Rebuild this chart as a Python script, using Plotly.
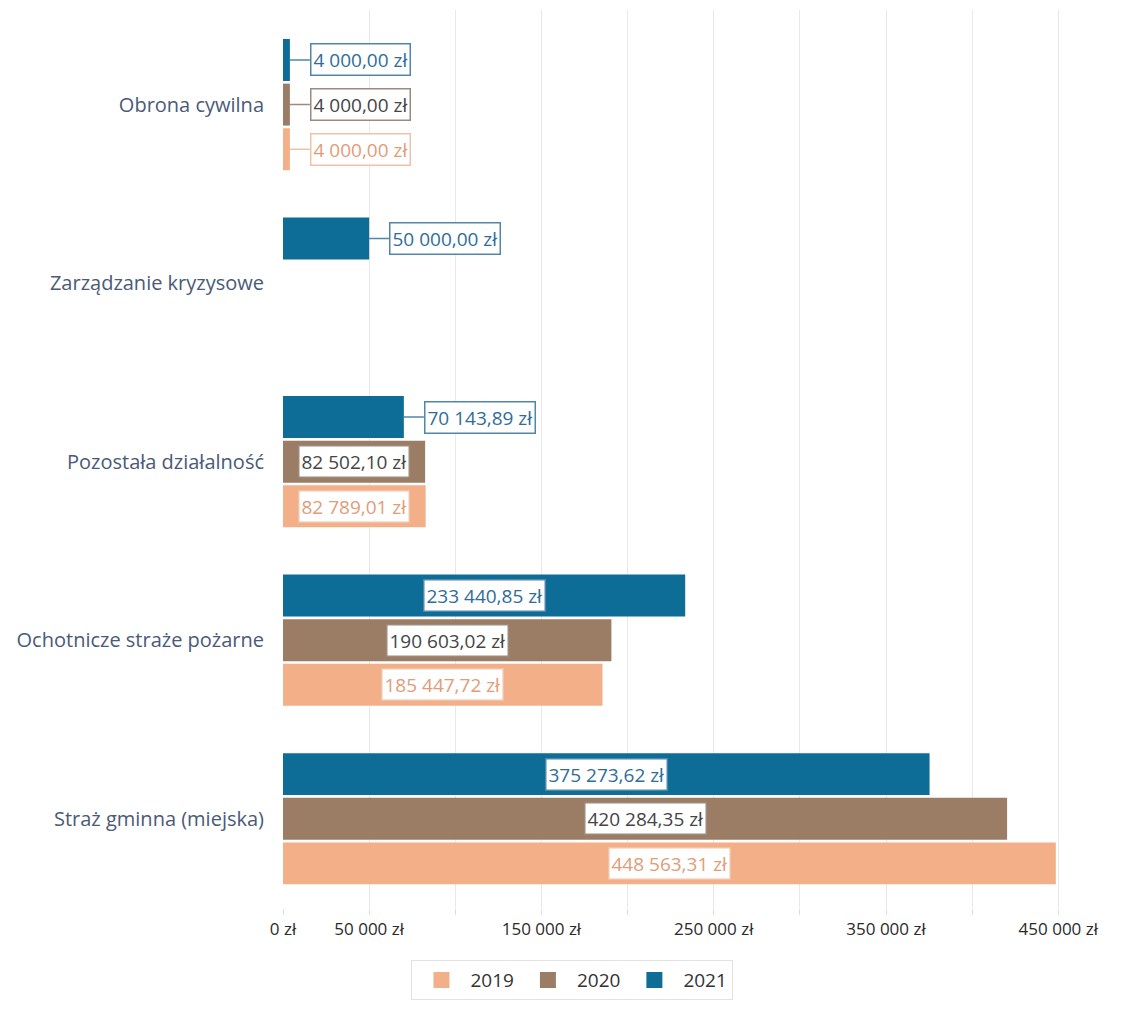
import plotly.graph_objs as go

########### Data ######

categories = ['Obrona cywilna', 'Zarządzanie kryzysowe', 'Pozostała działalność',
              'Ochotnicze straże pożarne', 'Straż gminna (miejska)']
years = ['2019', '2020', '2021']
values_2019 = [4000.00, None, 82789.01, 185447.72, 448563.31]
values_2020 = [4000.00, None, 82502.10, 190603.02, 420284.35]
values_2021 = [4000.00, 50000.00, 70143.89, 233440.85, 375273.62]
tick_values = [0, 50000, 100000, 150000, 200000, 250000, 300000, 350000, 400000, 450000]
tick_labels = ['0 zł', '50 000 zł', '', '150 000 zł', '', '250 000 zł', '', '350 000 zł', '', '450 000 zł']

########### Styling ######

bar_colors = {'2019': '#F3AF88', '2020': '#9B7D66', '2021': '#0E6D97'}
label_text = {'2019': '#E29C78', '2020': '#454545', '2021': '#2F6D99'}
label_border = {'2019': '#F0C3A8', '2020': '#9C8A7A', '2021': '#4F86AA'}
shifts = {'2019': -0.25, '2020': 0.0, '2021': 0.25}
FONT = 'Open Sans, sans-serif'
X_MAX = 480000
# page body has an 8px margin, so the figure is a bit smaller than the window
W, H = 1117, 1017
ML, MR, MT, MB = 275, 15, 2, 117
PLOT_W = W - ML - MR

def fmt(v):
    s = '{:,.2f}'.format(v).replace(',', ' ').replace('.', ',')
    return s + ' zł'

# categories from bottom to top on a numeric axis
ypos = [len(categories) - 1 - i for i in range(len(categories))]

fig = go.Figure()
annotations = []
series = {'2019': values_2019, '2020': values_2020, '2021': values_2021}
for yr in years:
    vals = series[yr]
    fig.add_trace(go.Bar(
        x=vals, y=[p + shifts[yr] for p in ypos], orientation='h', name=yr,
        width=0.235, marker=dict(color=bar_colors[yr], line=dict(width=0)),
        showlegend=False, hoverinfo='skip'))
    # legend entry with a bigger swatch
    fig.add_trace(go.Scatter(
        x=[None], y=[None], mode='markers', name=yr,
        marker=dict(symbol='square', size=16, color=bar_colors[yr])))
    for v, p in zip(vals, ypos):
        if v is None:
            continue
        txt = fmt(v)
        label_px = len(txt) * 10 + 12
        bar_px = v / X_MAX * PLOT_W
        common = dict(y=p + shifts[yr], xref='x', yref='y', text=txt,
                      font=dict(family=FONT, size=19, color=label_text[yr]),
                      bgcolor='white', bordercolor=label_border[yr],
                      borderwidth=1.5, borderpad=2)
        if bar_px > label_px:
            annotations.append(dict(x=v / 2, showarrow=False, xanchor='center', **common))
        else:
            annotations.append(dict(x=v, showarrow=True, arrowhead=0, arrowwidth=1.5,
                                    arrowcolor=label_border[yr], ax=20, ay=0,
                                    xanchor='left', **common))

fig.update_layout(
    width=W, height=H,
    margin=dict(l=ML, r=MR, t=MT, b=MB),
    paper_bgcolor='white', plot_bgcolor='white',
    barmode='overlay',
    showlegend=True,
    legend=dict(orientation='h', x=0.35, xanchor='center', y=-0.058, yanchor='top',
                font=dict(family=FONT, size=19, color='#333333'),
                bordercolor='#E2E2E2', borderwidth=1, itemwidth=48,
                traceorder='normal'),
    annotations=annotations,
    xaxis=dict(range=[0, X_MAX], tickvals=tick_values, ticktext=tick_labels,
               showgrid=True, gridcolor='#E8E8E8', gridwidth=1, zeroline=False,
               ticks='outside', ticklen=6, tickcolor='#DDDDDD', automargin=False,
               tickfont=dict(family=FONT, size=17, color='#2A2A2A'), fixedrange=True),
    yaxis=dict(range=[-0.5, 4.53], tickvals=ypos, ticktext=categories,
               showgrid=False, zeroline=False, ticks='', ticklabelstandoff=18,
               automargin=False,
               tickfont=dict(family=FONT, size=20, color='#4A5A78'), fixedrange=True),
)

fig.write_html("out.html")
